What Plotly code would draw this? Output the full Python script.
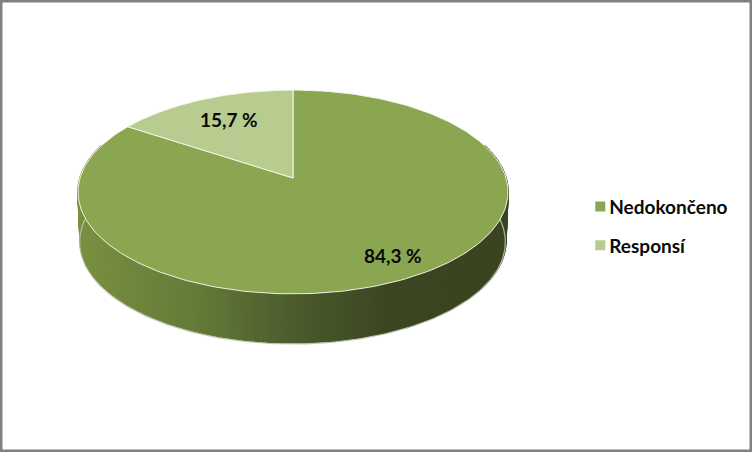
import numpy as np
import plotly.graph_objects as go

# chart data
labels = ["Nedokončeno", "Responsí"]
values = [84.3, 15.7]
value_labels = ["84,3 %", "15,7 %"]
colors = ["#8aa650", "#b8cc8f"]

# pie geometry in page pixels, with a little perspective
cx, cy = 293, 178
rx, ry = 213, 100
persp = 0.137
depth = 49
label_r = 0.72
label_shift = [(20, 8), (3, 0)]  # xshift, yshift of the two labels

# side wall gradient, left to right
grad_x = [78, 200, 300, 385, 508]
grad_r = [122, 100, 74, 60, 58]
grad_g = [145, 122, 90, 71, 68]
grad_b = [66, 57, 44, 34, 32]


def project(t, r=1.0, scale=1.0, dy=0):
    # t is the clockwise angle from 12 o'clock, in degrees
    t = np.radians(t)
    u = np.sin(t) * r
    v = -np.cos(t) * r
    w = 1 - persp * v
    return cx + rx * scale * u / w, cy + ry * v / w + dy


fig = go.Figure()

# side wall as thin strips so the shading can change along it
edges = np.arange(70, 291, 1.0)
for a, b in zip(edges[:-1], edges[1:]):
    ts = np.array([a, b])
    x1, y1 = project(ts)
    x2, y2 = project(ts, scale=0.99, dy=depth)
    xm = (x1.mean() + x2.mean()) / 2
    c = [int(np.interp(xm, grad_x, g)) for g in (grad_r, grad_g, grad_b)]
    col = f"rgb({c[0]},{c[1]},{c[2]})"
    fig.add_trace(go.Scatter(
        x=[x1[0], x1[1], x2[1], x2[0], x1[0]],
        y=[y1[0], y1[1], y2[1], y2[0], y1[0]],
        mode="lines", fill="toself", fillcolor=col,
        line=dict(color=col, width=1.5),
        hoverinfo="skip", showlegend=False,
    ))

# soft shadow and light rim below the wall
ts = np.linspace(85, 275, 200)
xb, yb = project(ts, scale=0.99, dy=depth)
fig.add_trace(go.Scatter(x=xb - 0.5, y=yb + 1.2, mode="lines",
                         line=dict(color="rgba(190,195,175,0.9)", width=1.2),
                         hoverinfo="skip", showlegend=False))

# top faces: first slice runs clockwise from 12 o'clock
total = sum(values)
start = 0.0
mids = []
for label, value, color in zip(labels, values, colors):
    sweep = value / total * 360
    ts = np.linspace(start, start + sweep, 240)
    xs, ys = project(ts)
    fig.add_trace(go.Scatter(
        x=np.r_[cx, xs, cx], y=np.r_[cy, ys, cy],
        mode="lines", fill="toself", fillcolor=color,
        line=dict(color="rgba(245,248,235,0.95)", width=1),
        name=label, showlegend=False, hoverinfo="skip",
    ))
    mids.append(start + sweep / 2)
    start += sweep

# legend entries
for label, color in zip(labels, colors):
    fig.add_trace(go.Scatter(
        x=[None], y=[None], mode="markers", name=label, legendgroup=label,
        marker=dict(symbol="square", size=10, color=color),
    ))

for mid, text, (sx, sy) in zip(mids, value_labels, label_shift):
    lx, ly = project(mid, r=label_r)
    fig.add_annotation(x=float(lx), y=float(ly), text=f"<b>{text}</b>", showarrow=False,
                       xshift=sx, yshift=-sy,
                       font=dict(family="Lato", size=19, color="#0a0a0a"))

fig.update_layout(
    width=752, height=452,
    margin=dict(l=0, r=0, t=0, b=0),
    paper_bgcolor="white", plot_bgcolor="white",
    xaxis=dict(range=[0, 752], visible=False, fixedrange=True),
    yaxis=dict(range=[452, 0], visible=False, fixedrange=True),
    legend=dict(x=0.757, y=0.585, xanchor="left", yanchor="top", tracegroupgap=11,
                bgcolor="rgba(0,0,0,0)",
                font=dict(family="Lato", size=19, color="#0a0a0a", weight="bold")),
    shapes=[dict(type="rect", xref="paper", yref="paper", x0=0, y0=0, x1=1, y1=1,
                 line=dict(color="#808080", width=5), fillcolor="rgba(0,0,0,0)")],
)

# page margin off, legend swatches closer to their text
post = """
document.body.style.margin = '0';
document.querySelectorAll('.legendsymbols').forEach(function (g) {
    g.setAttribute('transform', 'translate(11,0)');
});
"""
fig.write_html("out.html", post_script=post, config=dict(displayModeBar=False))
